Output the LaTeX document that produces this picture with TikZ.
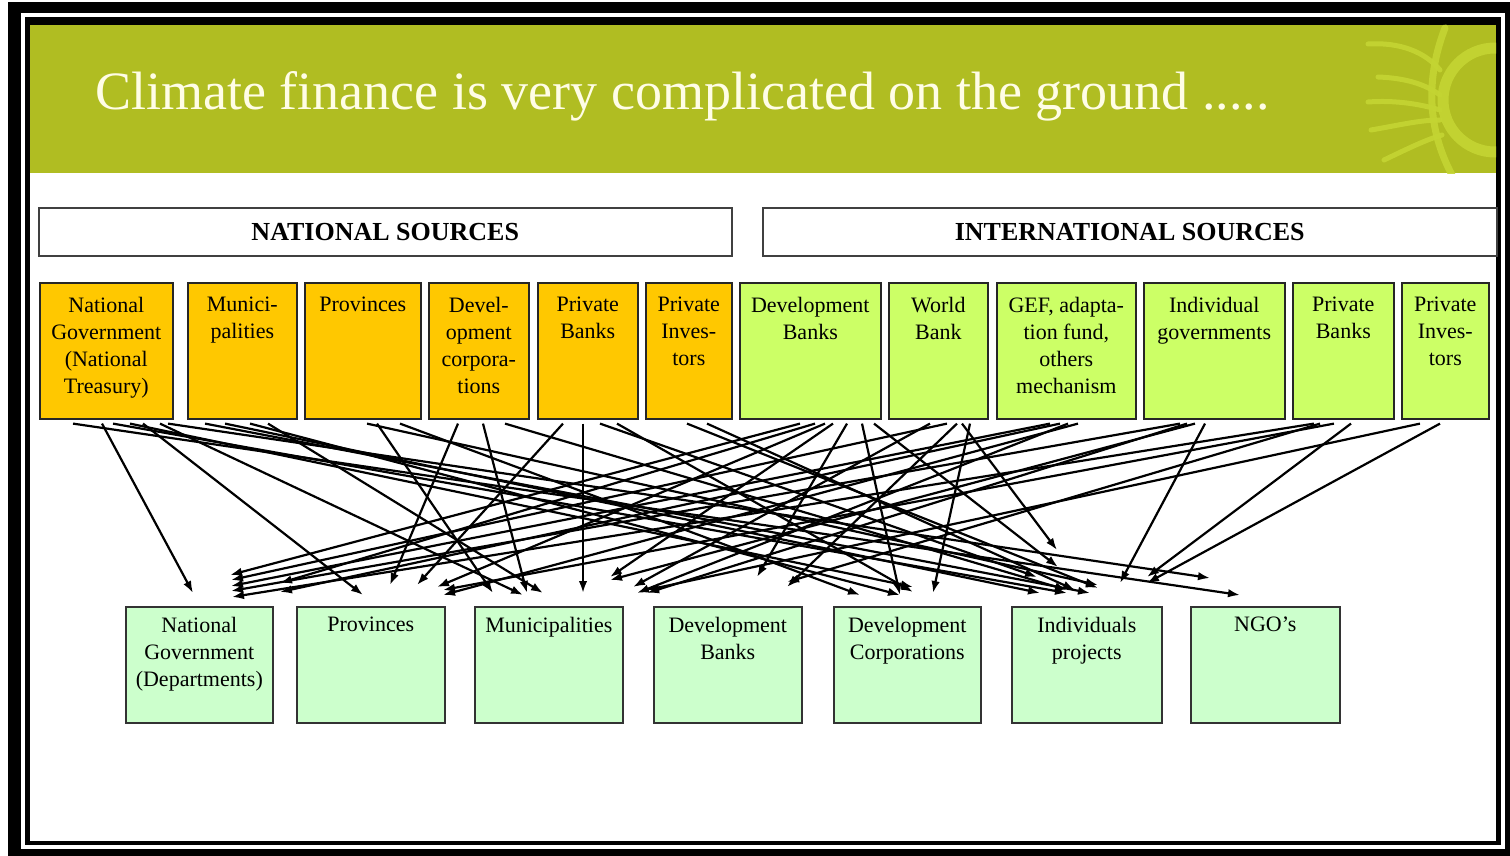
\documentclass[tikz,border=0pt]{standalone}
\usepackage{fontspec}
\setmainfont{Liberation Serif}
\usetikzlibrary{arrows.meta,calc}

\definecolor{header}{HTML}{B0BD22}
\definecolor{deco}{HTML}{C4D533}
\definecolor{titletext}{HTML}{FFFDE6}
\definecolor{natfill}{HTML}{FFC800}
\definecolor{intfill}{HTML}{CCFF66}
\definecolor{dstfill}{HTML}{CCFFCC}

% box content: width, height, top gap, text
\newcommand\boxtext[4]{\parbox[c][#2][t]{#1}{\centering\vspace*{#3}#4}}

\tikzset{
  srcbox/.style={draw=black!85, line width=1.6pt, inner sep=0pt, anchor=north west,
                 font=\fontsize{22}{27}\selectfont},
  dstbox/.style={draw=black!80, line width=1.6pt, inner sep=0pt, anchor=north west,
                 fill=dstfill, font=\fontsize{22}{27}\selectfont},
  secbox/.style={draw=black!75, line width=1.5pt, fill=white, inner sep=0pt,
                 anchor=north west, minimum height=48pt,
                 font=\bfseries\fontsize{26}{30}\selectfont},
  flow/.style={-{Latex[length=12pt,width=8.5pt]}, line width=2.2pt, black},
  decoline/.style={deco, line cap=round, opacity=0.9}
}

% connector from a source box (offset along its bottom) to a point above a target box
\newcommand\flowline[5]{\draw[flow] ($(#1.south west)+(#2,4)$) -- ($(#3.north west)+(#4,-#5)$);}

\begin{document}
\begin{tikzpicture}[x=1pt,y=-1pt]
\useasboundingbox (0,0) rectangle (1510,856);

% frame
\fill[white] (0,0) rectangle (1510,856);
\fill[black] (8,2) rectangle (1510,856);
\draw[white, line width=4pt] (22.5,15) rectangle (1503,846.5);
\fill[white] (30,25) rectangle (1496,841);

% title band
\fill[header] (30,25) rectangle (1496,173);
\begin{scope}
  \clip (30,25) rectangle (1496,173);
  \draw[decoline, line width=11pt] (1495,100) circle (52);
  \draw[decoline, line width=7pt] (1445,28) .. controls (1425,80) and (1428,130) .. (1452,175);
  \draw[decoline, line width=5pt] (1368,44) .. controls (1400,42) and (1425,52) .. (1440,70);
  \draw[decoline, line width=5pt] (1378,77) .. controls (1405,78) and (1425,84) .. (1440,95);
  \draw[decoline, line width=5pt] (1368,102) .. controls (1395,100) and (1420,104) .. (1440,110);
  \draw[decoline, line width=5pt] (1371,130) .. controls (1400,125) and (1420,120) .. (1440,120);
  \draw[decoline, line width=5pt] (1384,160) .. controls (1405,150) and (1425,140) .. (1442,135);
\end{scope}
\node[anchor=base west, inner sep=0pt, text=titletext, font=\fontsize{54}{60}\selectfont]
  (title) at (95,110) {Climate finance is very complicated on the ground .....};

% section headings
\node[secbox, minimum width=693pt] (nat) at (38,207) {NATIONAL SOURCES};
\node[secbox, minimum width=734pt] (intl) at (762,207) {INTERNATIONAL SOURCES};

% national sources
\node[srcbox, fill=natfill] (t1) at (39,282)  {\boxtext{133pt}{136pt}{14pt}{National\\Government\\(National\\Treasury)}};
\node[srcbox, fill=natfill] (t2) at (187,282) {\boxtext{109pt}{136pt}{14pt}{Munici-\\palities}};
\node[srcbox, fill=natfill] (t3) at (304,282) {\boxtext{116pt}{136pt}{14pt}{Provinces}};
\node[srcbox, fill=natfill] (t4) at (428,282) {\boxtext{100pt}{136pt}{14pt}{Devel-\\opment\\corpora-\\tions}};
\node[srcbox, fill=natfill] (t5) at (537,282) {\boxtext{100pt}{136pt}{14pt}{Private\\Banks}};
\node[srcbox, fill=natfill] (t6) at (645,282) {\boxtext{86pt}{136pt}{14pt}{Private\\Inves-\\tors}};

% international sources
\node[srcbox, fill=intfill] (t7)  at (739,282)  {\boxtext{141pt}{136pt}{14pt}{Development\\Banks}};
\node[srcbox, fill=intfill] (t8)  at (888,282)  {\boxtext{99pt}{136pt}{14pt}{World\\Bank}};
\node[srcbox, fill=intfill] (t9)  at (996,282)  {\boxtext{139pt}{136pt}{14pt}{GEF, adapta-\\tion fund,\\others\\mechanism}};
\node[srcbox, fill=intfill] (t10) at (1143,282) {\boxtext{141pt}{136pt}{14pt}{Individual\\governments}};
\node[srcbox, fill=intfill] (t11) at (1292,282) {\boxtext{101pt}{136pt}{14pt}{Private\\Banks}};
\node[srcbox, fill=intfill] (t12) at (1401,282) {\boxtext{87pt}{136pt}{14pt}{Private\\Inves-\\tors}};

% recipients
\node[dstbox] (b1) at (125,606)  {\boxtext{147pt}{116pt}{10pt}{National\\Government\\(Departments)}};
\node[dstbox] (b2) at (296,606)  {\boxtext{148pt}{116pt}{10pt}{Provinces}};
\node[dstbox] (b3) at (474,606)  {\boxtext{148pt}{116pt}{10pt}{Municipalities}};
\node[dstbox] (b4) at (653,606)  {\boxtext{148pt}{116pt}{10pt}{Development\\Banks}};
\node[dstbox] (b5) at (833,606)  {\boxtext{147pt}{116pt}{10pt}{Development\\Corporations}};
\node[dstbox] (b6) at (1011,606) {\boxtext{150pt}{116pt}{10pt}{Individuals\\projects}};
\node[dstbox] (b7) at (1190,606) {\boxtext{149pt}{116pt}{10pt}{NGO’s}};

% flows from national sources
\flowline{t1}{63}{b1}{68}{13}
\flowline{t1}{104}{b2}{67}{11}
\flowline{t1}{121}{b3}{49}{11}
\flowline{t1}{34}{b7}{50}{11}
\flowline{t1}{74}{b6}{56}{13}
\flowline{t1}{129}{b7}{20}{28}
\flowline{t1}{91}{b5}{80}{19}
\flowline{t2}{18}{b6}{79}{13}
\flowline{t2}{38}{b6}{29}{13}
\flowline{t2}{63}{b5}{67}{11}
\flowline{t2}{81}{b3}{69}{13}
\flowline{t3}{63}{b6}{87}{21}
\flowline{t3}{73}{b3}{19}{13}
\flowline{t3}{96}{b5}{27}{11}
\flowline{t4}{30}{b2}{94}{21}
\flowline{t4}{55}{b3}{53}{13}
\flowline{t4}{77}{b6}{56}{16}
\flowline{t5}{26}{b2}{121}{21}
\flowline{t5}{46}{b3}{109}{13}
\flowline{t5}{63}{b6}{26}{29}
\flowline{t5}{80}{b5}{80}{14}
\flowline{t6}{42}{b6}{87}{18}
\flowline{t6}{62}{b6}{64}{16}

% flows from international sources
\flowline{t7}{61}{b1}{105}{31}
\flowline{t7}{76}{b1}{155}{23}
\flowline{t7}{86}{b2}{141}{19}
\flowline{t7}{94}{b3}{136}{29}
\flowline{t7}{108}{b4}{104}{29}
\flowline{t7}{123}{b5}{67}{11}
\flowline{t7}{135}{b6}{47}{39}
\flowline{t8}{42}{b3}{159}{19}
\flowline{t8}{59}{b1}{106}{26}
\flowline{t8}{69}{b4}{134}{19}
\flowline{t8}{74}{b6}{46}{56}
\flowline{t8}{82}{b5}{100}{13}
\flowline{t9}{54}{b1}{106}{20}
\flowline{t9}{64}{b1}{155}{14}
\flowline{t9}{72}{b3}{163}{13}
\flowline{t9}{82}{b2}{147}{11}
\flowline{t10}{37}{b1}{106}{15}
\flowline{t10}{44}{b3}{173}{13}
\flowline{t10}{62}{b6}{109}{23}
\flowline{t10}{52}{b3}{136}{26}
\flowline{t11}{22}{b1}{107}{9}
\flowline{t11}{42}{b2}{147}{16}
\flowline{t11}{59}{b6}{136}{29}
\flowline{t11}{28}{b4}{134}{24}
\flowline{t12}{19}{b3}{173}{16}
\flowline{t12}{39}{b6}{136}{23}

\end{tikzpicture}
\end{document}
